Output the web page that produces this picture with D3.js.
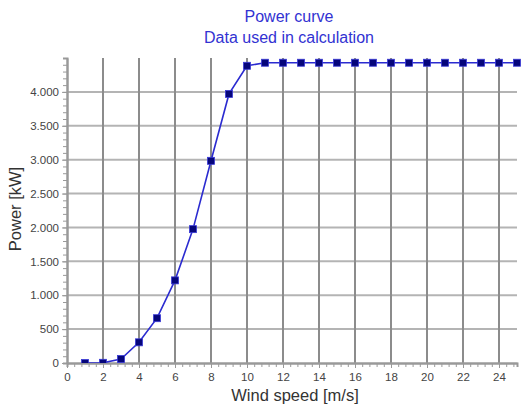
<!DOCTYPE html>
<html>
<head>
<meta charset="utf-8">
<script src="https://d3js.org/d3.v7.min.js"></script>
<style>
  body { margin: 0; background: #fff; }
  svg { display: block; font-family: Arial, "Liberation Sans", sans-serif; }
  .tick text { fill: #444; font-size: 11.5px; }
  .domain { stroke: #999; stroke-width: 2px; }
</style>
</head>
<body>
<div id="chart"></div>
<script>
  // power curve data
  var windSpeed = [1, 2, 3, 4, 5, 6, 7, 8, 9, 10, 11, 12, 13, 14, 15, 16, 17, 18, 19, 20, 21, 22, 23, 24, 25];
  var power = [0, 3, 59, 305, 661, 1219, 1975, 2983, 3970, 4385, 4430, 4430, 4430, 4430, 4430, 4430, 4430, 4430, 4430, 4430, 4430, 4430, 4430, 4430, 4430];
  var xTicks = [0, 2, 4, 6, 8, 10, 12, 14, 16, 18, 20, 22, 24];
  var yTicks = [0, 500, 1000, 1500, 2000, 2500, 3000, 3500, 4000];
  var titleLines = ["Power curve", "Data used in calculation"];

  var W = 522, H = 407;
  var margin = {top: 58, right: 5, bottom: 44, left: 67};
  var width = W - margin.left - margin.right,
      height = H - margin.top - margin.bottom;

  var svg = d3.select("#chart").append("svg")
    .attr("width", W).attr("height", H);

  var g = svg.append("g")
    .attr("transform", "translate(" + margin.left + "," + margin.top + ")");

  var x = d3.scaleLinear().domain([0, 25]).range([0, 450]);
  var y = d3.scaleLinear().domain([0, 4500]).range([height, 0]);

  // german style thousands separator
  var fmt = function (v) { return d3.format(",")(v).replace(/,/g, "."); };

  // horizontal grid
  g.append("g").selectAll("line")
    .data(yTicks.slice(1))
    .join("line")
    .attr("x1", 0).attr("x2", width)
    .attr("y1", d => y(d)).attr("y2", d => y(d))
    .attr("stroke", "#b4b4b4").attr("stroke-width", 2);

  // vertical grid
  g.append("g").selectAll("line")
    .data(xTicks.slice(1))
    .join("line")
    .attr("x1", d => x(d)).attr("x2", d => x(d))
    .attr("y1", 0).attr("y2", height)
    .attr("stroke", "#8c8c8c").attr("stroke-width", 2);

  // minor ticks
  g.append("g")
    .attr("transform", "translate(0," + height + ")")
    .call(d3.axisBottom(x).tickValues(d3.range(0, 25.01, 0.4)).tickSize(4).tickFormat(""))
    .call(s => s.selectAll(".tick line").attr("stroke", "#999"));
  g.append("g")
    .call(d3.axisLeft(y).tickValues(d3.range(0, 4501, 100)).tickSize(4).tickFormat(""))
    .call(s => s.selectAll(".tick line").attr("stroke", "#999"));

  // labelled axes
  g.append("g")
    .attr("transform", "translate(0," + height + ")")
    .call(d3.axisBottom(x).tickValues(xTicks).tickSize(5).tickPadding(5).tickSizeOuter(0))
    .call(s => s.selectAll(".tick line").attr("stroke", "#999"));
  g.append("g")
    .call(d3.axisLeft(y).tickValues(yTicks).tickSize(5).tickPadding(3).tickSizeOuter(0).tickFormat(fmt))
    .call(s => s.selectAll(".tick line").attr("stroke", "#999"));

  // clip for the series
  svg.append("clipPath").attr("id", "plot")
    .append("rect").attr("x", 0).attr("y", -10).attr("width", width + 10).attr("height", height + 10);

  var data = windSpeed.map((v, i) => ({ws: v, p: power[i]}));
  var series = g.append("g").attr("clip-path", "url(#plot)");

  series.append("path")
    .datum(data)
    .attr("fill", "none")
    .attr("stroke", "#2b2bd0")
    .attr("stroke-width", 1.6)
    .attr("d", d3.line().x(d => x(d.ws)).y(d => y(d.p)));

  series.selectAll("rect")
    .data(data)
    .join("rect")
    .attr("x", d => x(d.ws) - 3.5)
    .attr("y", d => y(d.p) - 3.5)
    .attr("width", 7).attr("height", 7)
    .attr("fill", "#06067a")
    .attr("stroke", "#3a3ad8")
    .attr("stroke-width", 0.8);

  // titles
  svg.append("g").selectAll("text")
    .data(titleLines)
    .join("text")
    .attr("x", 289)
    .attr("y", (d, i) => 22 + i * 21)
    .attr("text-anchor", "middle")
    .style("font-size", "16px")
    .style("fill", "#3232d2")
    .text(d => d);

  svg.append("text")
    .attr("x", 295)
    .attr("y", 401)
    .attr("text-anchor", "middle")
    .style("font-size", "16.5px")
    .style("fill", "#333")
    .text("Wind speed [m/s]");

  svg.append("text")
    .attr("transform", "translate(21,209) rotate(-90)")
    .attr("text-anchor", "middle")
    .style("font-size", "16.5px")
    .style("fill", "#333")
    .text("Power [kW]");
</script>
</body>
</html>
